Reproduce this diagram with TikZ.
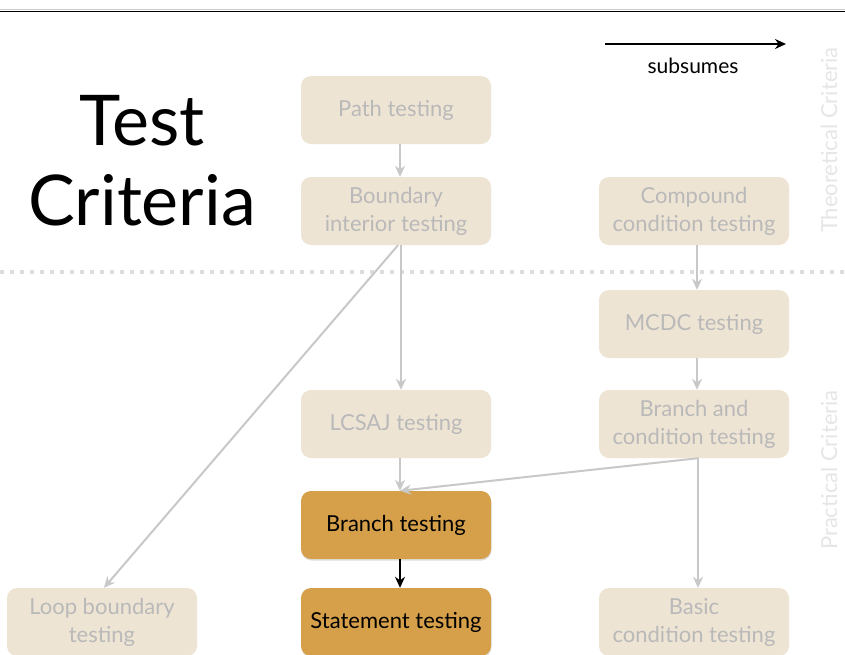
\documentclass[tikz,border=0pt]{standalone}
\usepackage{fontspec}
\setmainfont{Lato}
\usetikzlibrary{arrows.meta,shadows}
\definecolor{paleFill}{HTML}{EEE4D4}
\definecolor{paleText}{HTML}{B9B9B9}
\definecolor{hotFill}{HTML}{D6A04A}
\definecolor{arrGray}{HTML}{C8C8C8}
\definecolor{sideText}{HTML}{E6E6E6}
\definecolor{dotGray}{HTML}{DDDDDD}
\begin{document}
\begin{tikzpicture}[x=1pt,y=-1pt,
  pale/.style={draw=none, fill=paleFill, rounded corners=10pt, minimum width=190pt,
    minimum height=68pt, text=paleText, font=\fontsize{22}{28}\selectfont, align=center, inner sep=0pt},
  hot/.style={pale, fill=hotFill, text=black, drop shadow={opacity=0.25, shadow xshift=0.5pt, shadow yshift=-1.5pt}},
  sub/.style={draw=arrGray, line width=2pt, -{Stealth[length=11pt,width=10pt]}},
  subblack/.style={draw=black, line width=2pt, -{Stealth[length=11pt,width=10pt]}},
  side/.style={rotate=90, anchor=base, inner sep=0pt, text=sideText, font=\fontsize{22}{26}\selectfont},
  title/.style={anchor=base, font=\fontsize{70}{76}\selectfont}
]
\useasboundingbox (0,0) rectangle (845,654);
\fill[white] (0,0) rectangle (845,654);
% top rule
\draw[gray!40, line width=1pt] (0,9.5) -- (845,9.5);
\draw[black, line width=1.5pt] (0,11.5) -- (845,11.5);
% dotted separator
\coordinate (dl) at (0,272);
\coordinate (dr) at (845,272);
\draw[dotGray, line width=4pt, dash pattern=on 4pt off 6pt] (dl) -- (dr);
% title
\node[title] (t1) at (142,145) {Test};
\node[title] (t2) at (142,225) {Criteria};
% legend
\coordinate (la) at (605,44);
\coordinate (lb) at (786,44);
\draw[subblack, line width=1.8pt] (la) -- (lb);
\node[anchor=base, font=\fontsize{21}{24}\selectfont] (leg) at (693,73) {subsumes};
% side labels
\node[side] (theo) at (837,140) {Theoretical Criteria};
\node[side] (prac) at (837,470) {Practical Criteria};
% boxes
\node[pale] (path) at (396,110) {Path testing};
\node[pale] (bound) at (396,211) {Boundary\\interior testing};
\node[pale] (comp) at (694,211) {Compound\\condition testing};
\node[pale] (mcdc) at (694,324) {MCDC testing};
\node[pale] (lcsaj) at (396,424) {LCSAJ testing};
\node[pale] (bac) at (694,424) {Branch and\\condition testing};
\node[hot] (branch) at (396,525) {Branch testing};
\node[hot] (stmt) at (396,622) {Statement testing};
\node[pale] (loop) at (102,622) {Loop boundary\\testing};
\node[pale] (basic) at (694,622) {Basic\\condition testing};
% arrows
\draw[sub] ([xshift=4pt]path.south) -- ([xshift=4pt]bound.north);
\draw[sub] ([xshift=5pt]bound.south) -- ([xshift=5pt]lcsaj.north);
\draw[sub] ([xshift=2pt]bound.south) -- ([xshift=2pt]loop.north);
\draw[sub] ([xshift=3pt]comp.south) -- ([xshift=3pt]mcdc.north);
\draw[sub] ([xshift=3pt]mcdc.south) -- ([xshift=3pt]bac.north);
\draw[sub] ([xshift=4pt]bac.south) -- ([xshift=4pt]branch.north);
\draw[sub] ([xshift=4pt]bac.south) -- ([xshift=4pt]basic.north);
\draw[sub] ([xshift=4pt]lcsaj.south) -- ([xshift=4pt]branch.north);
\draw[subblack] ([xshift=4pt]branch.south) -- ([xshift=4pt]stmt.north);
\end{tikzpicture}
\end{document}
